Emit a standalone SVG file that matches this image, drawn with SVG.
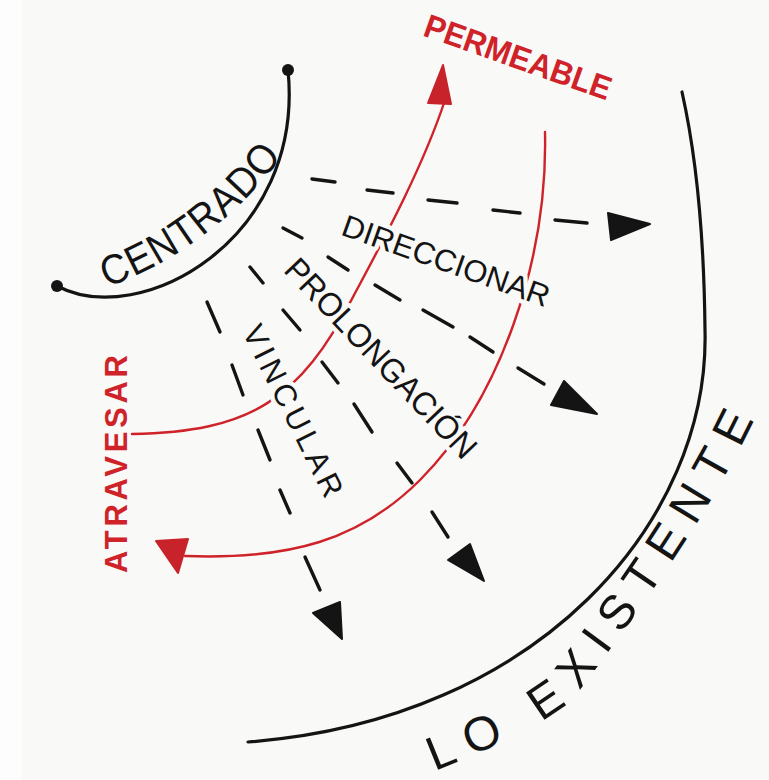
<svg xmlns="http://www.w3.org/2000/svg" width="769" height="780" viewBox="0 0 769 780">
<style>
.ink{fill:none;stroke:#141414;stroke-width:3.2;stroke-linecap:round}
.dash{fill:none;stroke:#141414;stroke-width:3.4;stroke-linecap:round}
.red{fill:none;stroke:#cf2229;stroke-width:2.4;stroke-linecap:round}
.head{fill:#141414;stroke:#141414;stroke-width:2;stroke-linejoin:round}
.rhead{fill:#c8222a;stroke:#c8222a;stroke-width:2;stroke-linejoin:round}
.t{font-family:"Liberation Sans","DejaVu Sans",sans-serif;fill:#141414}
.rt{font-family:"Liberation Sans","DejaVu Sans",sans-serif;fill:#cf2229;font-weight:bold}
.halo{stroke:#f9f9f7;stroke-width:9;stroke-linejoin:round;paint-order:stroke}
</style>
<defs>
<path id="pCentrado" d="M92,277 Q205,238 276,140"/>
<path id="pExist" d="M404,765 C462,742 520,720 560,688 C600,635 688,520 740,410 L756,370"/>
</defs>
<rect x="0" y="0" width="769" height="780" fill="#f9f9f7"/>
<rect x="0" y="0" width="22" height="780" fill="#fdfdfd"/>

<g id="connectors">
  <path class="red" d="M132,434 C250,432 300,400 353,297 C378,250 422,170 445,100"/>
  <polygon class="rhead" points="428,103 443,65 451,104"/>
  <path class="red" d="M545,132 C548,260 500,400 420,480 C360,540 290,560 185,556"/>
  <polygon class="rhead" points="156,541 188,539 178,573"/>
  <g>
    <line class="dash" x1="312" y1="179" x2="335" y2="182"/>
    <line class="dash" x1="367" y1="190" x2="393" y2="193"/>
    <line class="dash" x1="428" y1="200" x2="457" y2="203"/>
    <line class="dash" x1="493" y1="210" x2="520" y2="213"/>
    <line class="dash" x1="555" y1="220" x2="587" y2="223"/>
    <polygon class="head" points="608,213 650,224 611,240"/>
  </g>
  <g>
    <line class="dash" x1="283" y1="228" x2="302" y2="238"/>
    <line class="dash" x1="328" y1="257" x2="348" y2="270"/>
    <line class="dash" x1="375" y1="285" x2="400" y2="300"/>
    <line class="dash" x1="423" y1="310" x2="453" y2="327"/>
    <line class="dash" x1="470" y1="337" x2="493" y2="352"/>
    <line class="dash" x1="518" y1="368" x2="544" y2="384"/>
    <polygon class="head" points="564,381 551,405 597,414"/>
  </g>
  <g>
    <line class="dash" x1="250" y1="267" x2="263" y2="283"/>
    <line class="dash" x1="283" y1="310" x2="300" y2="330"/>
    <line class="dash" x1="322" y1="362" x2="338" y2="383"/>
    <line class="dash" x1="354" y1="404" x2="372" y2="432"/>
    <line class="dash" x1="397" y1="463" x2="412" y2="483"/>
    <line class="dash" x1="432" y1="512" x2="448" y2="537"/>
    <polygon class="head" points="448,560 470,544 484,581"/>
  </g>
  <g>
    <line class="dash" x1="207" y1="302" x2="220" y2="332"/>
    <line class="dash" x1="232" y1="365" x2="243" y2="395"/>
    <line class="dash" x1="258" y1="430" x2="270" y2="460"/>
    <line class="dash" x1="280" y1="490" x2="290" y2="513"/>
    <line class="dash" x1="305" y1="557" x2="320" y2="590"/>
    <polygon class="head" points="313,613 340,602 342,639"/>
  </g>
</g>

<g id="centrado">
  <path class="ink" d="M57,286 C140,330 305,240 288,70"/>
  <circle cx="288" cy="70" r="6" fill="#141414"/>
  <circle cx="57" cy="286" r="6" fill="#141414"/>
  <text class="t" font-size="42" dominant-baseline="central"><textPath href="#pCentrado" startOffset="10" textLength="214" lengthAdjust="spacingAndGlyphs">CENTRADO</textPath></text>
</g>

<g id="lo-existente">
  <path class="ink" d="M248,742 C540,720 710,520 705,330 C704,230 695,150 682,92"/>
  <text class="t" font-size="48" dominant-baseline="central"><textPath href="#pExist" startOffset="26" textLength="478" lengthAdjust="spacing">LO EXISTENTE</textPath></text>
</g>

<g id="direccionar">
  <text class="t halo" font-size="31" x="446" y="261" text-anchor="middle" dominant-baseline="central" textLength="218" lengthAdjust="spacingAndGlyphs" transform="rotate(19.5 446 261)">DIRECCIONAR</text>
</g>

<g id="prolongacion">
  <text class="t halo" font-size="33" x="381" y="358" text-anchor="middle" dominant-baseline="central" textLength="262" lengthAdjust="spacingAndGlyphs" transform="rotate(46.5 381 358)">PROLONGACIÓN</text>
</g>

<g id="vincular">
  <text class="t halo" font-size="31" x="293" y="411" text-anchor="middle" dominant-baseline="central" textLength="188" lengthAdjust="spacing" transform="rotate(63.5 293 411)">VINCULAR</text>
</g>

<g id="atravesar">
  <text class="rt" font-size="31" x="116" y="464" text-anchor="middle" dominant-baseline="central" textLength="218" lengthAdjust="spacing" transform="rotate(-90 116 464)">ATRAVESAR</text>
</g>

<g id="permeable">
  <text class="rt" font-size="33" x="518" y="57" text-anchor="middle" dominant-baseline="central" textLength="196" lengthAdjust="spacingAndGlyphs" transform="rotate(19.5 518 57)">PERMEABLE</text>
</g>
</svg>
